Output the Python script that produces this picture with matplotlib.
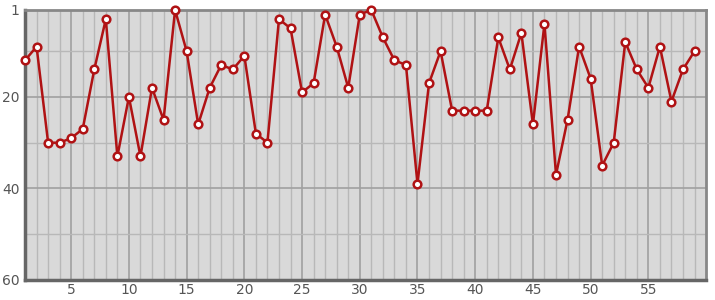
import matplotlib
matplotlib.use("Agg")
import matplotlib.pyplot as plt
from matplotlib.ticker import MultipleLocator, FixedLocator

x_vals = list(range(1, 60))
ranks = [12, 9, 30, 30, 29, 27, 14, 3, 33, 20,
         33, 18, 25, 1, 10, 26, 18, 13, 14, 11,
         28, 30, 3, 5, 19, 17, 2, 9, 18, 2,
         1, 7, 12, 13, 39, 17, 10, 23, 23, 23,
         23, 7, 14, 6, 26, 4, 37, 25, 9, 16,
         35, 30, 8, 14, 18, 9, 21, 14, 10]
y_ticks = [1, 20, 40, 60]
x_ticks = [5, 10, 15, 20, 25, 30, 35, 40, 45, 50, 55]

fig = plt.figure(figsize=(7.15, 3.0), dpi=100)
ax = fig.add_axes([0.035, 0.0667, 0.9525, 0.9])
ax.set_facecolor("#d9d9d9")

# grid: minor every 1 on x, every 10 on y
ax.xaxis.set_minor_locator(MultipleLocator(1))
ax.yaxis.set_minor_locator(FixedLocator([10, 30, 50]))
ax.set_xticks(x_ticks)
ax.set_yticks(y_ticks)
ax.grid(which="minor", color="#b8b8b8", linewidth=1.0)
ax.grid(which="major", color="#a0a0a0", linewidth=1.2)
ax.set_axisbelow(True)

ax.plot(x_vals, ranks, color="#b01214", linewidth=1.8, marker="o", markersize=5.5,
        markerfacecolor="white", markeredgecolor="#b01214", markeredgewidth=1.8,
        zorder=3, clip_on=False)

ax.set_xlim(1, 60)
ax.set_ylim(60, 1)

ax.tick_params(which="both", length=0, labelsize=10, labelcolor="#555555")
ax.tick_params(axis="x", pad=2)
ax.tick_params(axis="y", pad=4)
for side in ["left", "bottom"]:
    ax.spines[side].set_color("#666666")
    ax.spines[side].set_linewidth(2.5)
for side in ["top", "right"]:
    ax.spines[side].set_color("#888888")
    ax.spines[side].set_linewidth(2)

fig.savefig("out.png", dpi=100)
